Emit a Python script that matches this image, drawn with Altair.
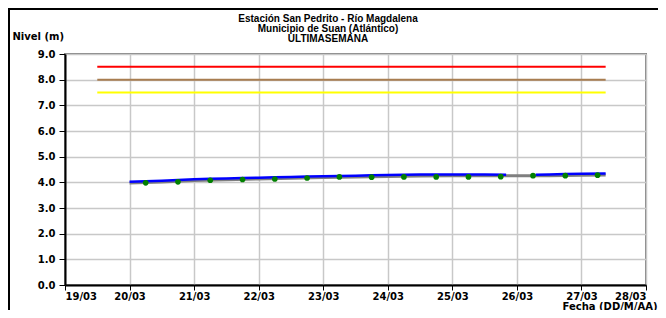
import altair as alt
import pandas as pd

FONT = "DejaVu Sans"
TITLE_FONT = "Liberation Sans"

# ---------------- data ----------------
title_lines = ["Estación San Pedrito - Río Magdalena",
               "Municipio de Suan (Atlántico)",
               "ULTIMASEMANA"]

tick_days = [19, 20, 21, 22, 23, 24, 25, 26, 27, 28]

# observed level (blue), two segments with a gap on 25/03-26/03
blue_times = ["2013-03-20T00:00:00Z", "2013-03-20T06:00:00Z", "2013-03-20T12:00:00Z",
              "2013-03-20T18:00:00Z", "2013-03-21T00:00:00Z", "2013-03-21T06:00:00Z",
              "2013-03-21T12:00:00Z", "2013-03-21T18:00:00Z", "2013-03-22T00:00:00Z",
              "2013-03-22T06:00:00Z", "2013-03-22T12:00:00Z", "2013-03-22T18:00:00Z",
              "2013-03-23T00:00:00Z", "2013-03-23T06:00:00Z", "2013-03-23T12:00:00Z",
              "2013-03-23T18:00:00Z", "2013-03-24T00:00:00Z", "2013-03-24T06:00:00Z",
              "2013-03-24T12:00:00Z", "2013-03-24T18:00:00Z", "2013-03-25T00:00:00Z",
              "2013-03-25T06:00:00Z", "2013-03-25T12:00:00Z", "2013-03-25T20:00:00Z",
              "2013-03-26T07:00:00Z", "2013-03-26T12:00:00Z", "2013-03-26T18:00:00Z",
              "2013-03-27T00:00:00Z", "2013-03-27T09:00:00Z"]
blue_vals = [4.02, 4.04, 4.06, 4.09, 4.12, 4.14, 4.15, 4.17, 4.18, 4.20,
             4.21, 4.23, 4.24, 4.25, 4.26, 4.28, 4.29, 4.30, 4.31, 4.31,
             4.31, 4.31, 4.31, 4.30, 4.30, 4.31, 4.32, 4.33, 4.34]
blue_seg = [1] * 24 + [2] * 5

# smoothed level (grey)
grey_times = ["2013-03-20T00:00:00Z", "2013-03-20T12:00:00Z", "2013-03-21T00:00:00Z",
              "2013-03-21T12:00:00Z", "2013-03-22T00:00:00Z", "2013-03-22T12:00:00Z",
              "2013-03-23T00:00:00Z", "2013-03-23T12:00:00Z", "2013-03-24T00:00:00Z",
              "2013-03-24T12:00:00Z", "2013-03-25T00:00:00Z", "2013-03-25T12:00:00Z",
              "2013-03-26T00:00:00Z", "2013-03-26T12:00:00Z", "2013-03-27T00:00:00Z",
              "2013-03-27T09:00:00Z"]
grey_vals = [3.97, 4.01, 4.07, 4.10, 4.13, 4.16, 4.19, 4.21, 4.23, 4.25,
             4.26, 4.26, 4.26, 4.26, 4.28, 4.29]

# manual readings (green points) 06:00 and 18:00
pt_times = ["2013-03-20T06:00:00Z", "2013-03-20T18:00:00Z", "2013-03-21T06:00:00Z",
            "2013-03-21T18:00:00Z", "2013-03-22T06:00:00Z", "2013-03-22T18:00:00Z",
            "2013-03-23T06:00:00Z", "2013-03-23T18:00:00Z", "2013-03-24T06:00:00Z",
            "2013-03-24T18:00:00Z", "2013-03-25T06:00:00Z", "2013-03-25T18:00:00Z",
            "2013-03-26T06:00:00Z", "2013-03-26T18:00:00Z", "2013-03-27T06:00:00Z"]
pt_vals = [3.98, 4.02, 4.08, 4.11, 4.13, 4.17, 4.21, 4.20, 4.21, 4.21,
           4.21, 4.22, 4.26, 4.26, 4.28]

# alert thresholds
thr_vals = [8.5, 8.0, 7.5]
thr_colors = ["#ff0000", "#a87d50", "#ffff00"]
thr_start = "2013-03-19T12:00:00Z"
thr_end = "2013-03-27T09:00:00Z"

# ---------------- tables ----------------
blue_df = pd.DataFrame({"t": blue_times, "v": blue_vals, "seg": blue_seg})
grey_df = pd.DataFrame({"t": grey_times, "v": grey_vals})
pt_df = pd.DataFrame({"t": pt_times, "v": pt_vals})
thr_df = pd.DataFrame({"t": [thr_start] * 3, "t2": [thr_end] * 3,
                       "v": thr_vals, "c": thr_colors})
one = pd.DataFrame({"a": [0]})

dom = [alt.DateTime(year=2013, month=3, date=19, utc=True),
       alt.DateTime(year=2013, month=3, date=28, utc=True)]
xvals = [alt.DateTime(year=2013, month=3, date=d, utc=True) for d in tick_days]

x_scale = alt.Scale(type="utc", domain=dom, nice=False)
y_scale = alt.Scale(domain=[0, 9], nice=False, zero=True)

x_axis = alt.Axis(values=xvals, format="%d/%m", title="Fecha (DD/M/AA)",
                  titleAnchor="end", titleAlign="right", titleX=592, titleY=24,
                  titleBaseline="alphabetic")
y_axis = alt.Axis(values=list(range(10)), format=".1f", title="Nivel (m)",
                  titleAngle=0, titleAlign="left", titleBaseline="middle",
                  titleX=-53, titleY=-18)

X = alt.X("t:T", scale=x_scale, axis=x_axis)
Y = alt.Y("v:Q", scale=y_scale, axis=y_axis)

thr = alt.Chart(thr_df).mark_rule(strokeWidth=2).encode(
    x=X, x2="t2:T", y=Y, color=alt.Color("c:N", scale=None))

grey = alt.Chart(grey_df).mark_line(color="#7f7f7f", strokeWidth=3).encode(x=X, y=Y)

blue = alt.Chart(blue_df).mark_line(color="#0000ff", strokeWidth=2.5).encode(
    x=X, y=Y, detail="seg:N")

pts = alt.Chart(pt_df).mark_point(filled=True, color="#008000", size=32, opacity=1).encode(x=X, y=Y)

frame_left = alt.Chart(one).mark_rule(color="black", strokeWidth=2).encode(
    x=alt.value(-56), y=alt.value(-46), y2=alt.value(256))
frame_top = alt.Chart(one).mark_rule(color="black", strokeWidth=2).encode(
    y=alt.value(-45), x=alt.value(-57), x2=alt.value(593))

title_y = [-35.5, -25.5, -15.5]
title_layers = [
    alt.Chart(one).mark_text(font=TITLE_FONT, fontSize=10, fontWeight="bold", color="black",
                             align="center", baseline="middle").encode(
        text=alt.value(line), x=alt.value(263), y=alt.value(yy))
    for line, yy in zip(title_lines, title_y)
]

chart = alt.layer(thr, grey, blue, pts, frame_left, frame_top, *title_layers).properties(
    width=581, height=231,
    autosize=alt.AutoSizeParams(type="none"),
    padding={"left": 57, "top": 46, "right": 12, "bottom": 25},
).configure_view(
    stroke="#808080", strokeWidth=2
).configure_axis(
    labelFont=FONT, labelFontSize=10, labelFontWeight="bold", labelColor="black",
    titleFont=FONT, titleFontSize=10, titleFontWeight="bold", titleColor="black",
    domainColor="black", domainWidth=2, tickColor="black", tickWidth=1,
    gridColor="#c8c8c8", gridWidth=1.5, grid=True,
).configure_axisX(
    tickSize=5, labelPadding=1
).configure_axisY(
    tickSize=6, labelPadding=4
)

chart.save("out.html", embed_options={"renderer": "svg", "actions": False})
